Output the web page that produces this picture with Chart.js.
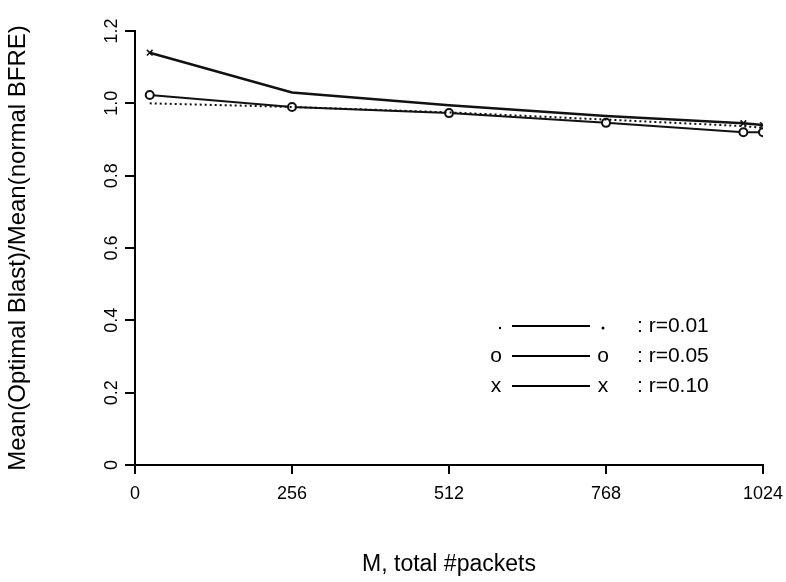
<!DOCTYPE html>
<html>
<head>
<meta charset="utf-8">
<script src="https://cdn.jsdelivr.net/npm/chart.js@4"></script>
<style>
  html, body { margin: 0; padding: 0; background: #fff; }
  #wrap { width: 786px; height: 582px; }
</style>
</head>
<body>
<div id="wrap"><canvas id="blastChart" width="786" height="582"></canvas></div>
<script>
// values
const packets = [24, 256, 512, 768, 992, 1024];
const ratioR01 = [1.00, 0.99, 0.975, 0.955, 0.937, 0.932];
const ratioR05 = [1.023, 0.99, 0.973, 0.946, 0.92, 0.92];
const ratioR10 = [1.14, 1.03, 0.995, 0.965, 0.945, 0.94];
const seriesLabels = ['r=0.01', 'r=0.05', 'r=0.10'];
const xTicks = [0, 256, 512, 768, 1024];
const yTicks = [0, 0.2, 0.4, 0.6, 0.8, 1.0, 1.2];

const FONT = "'Liberation Sans', Arial, sans-serif";

function toPoints(ys) {
    return packets.map((m, i) => ({ x: m, y: ys[i] }));
}

// legend drawn inside the plot, as in the old figure
const insideLegend = {
    id: 'insideLegend',
    afterDatasetsDraw(chart) {
        const ctx = chart.ctx;
        const marks = ['.', 'o', 'x'];
        const rows = [326, 356, 386];
        ctx.save();
        ctx.fillStyle = '#000';
        ctx.strokeStyle = '#000';
        ctx.textBaseline = 'middle';
        rows.forEach((y, i) => {
            ctx.lineWidth = 2;
            ctx.beginPath();
            ctx.moveTo(512, y);
            ctx.lineTo(590, y);
            ctx.stroke();
            if (marks[i] === '.') {
                ctx.beginPath(); ctx.arc(500, y + 2, 1.2, 0, Math.PI * 2); ctx.fill();
                ctx.beginPath(); ctx.arc(603, y + 2, 1.5, 0, Math.PI * 2); ctx.fill();
            } else {
                ctx.font = '21px ' + FONT;
                ctx.textAlign = 'center';
                ctx.fillText(marks[i], 496, y);
                ctx.fillText(marks[i], 603, y);
            }
            ctx.font = '21px ' + FONT;
            ctx.textAlign = 'left';
            ctx.fillText(': ' + seriesLabels[i], 637, y);
        });
        ctx.restore();
    }
};

const ctx = document.getElementById('blastChart');
new Chart(ctx, {
    type: 'line',
    data: {
        datasets: [
            {
                label: seriesLabels[0],
                data: toPoints(ratioR01),
                borderColor: '#111',
                borderWidth: 2,
                borderDash: [2, 3],
                pointRadius: 0,
                fill: false
            },
            {
                label: seriesLabels[1],
                data: toPoints(ratioR05),
                borderColor: '#111',
                borderWidth: 2,
                pointStyle: 'circle',
                pointRadius: 4,
                pointBorderWidth: 2,
                pointBackgroundColor: '#fff',
                pointBorderColor: '#111',
                fill: false
            },
            {
                label: seriesLabels[2],
                data: toPoints(ratioR10),
                borderColor: '#111',
                borderWidth: 2.5,
                pointStyle: 'crossRot',
                pointRadius: [4, 0, 0, 0, 4, 4],
                pointBorderWidth: 1.5,
                pointBorderColor: '#111',
                fill: false
            }
        ]
    },
    options: {
        responsive: false,
        animation: false,
        layout: { padding: { top: 31, right: 23, left: 0, bottom: 0 } },
        plugins: {
            legend: { display: false },
            tooltip: { enabled: false }
        },
        scales: {
            x: {
                type: 'linear',
                min: 0,
                max: 1024,
                afterBuildTicks: axis => { axis.ticks = xTicks.map(v => ({ value: v })); },
                afterFit: axis => { axis.height = 117; axis.paddingRight = 0; },
                border: { display: true, color: '#000', width: 2 },
                grid: { display: true, drawOnChartArea: false, color: '#000', lineWidth: 2, tickLength: 9 },
                ticks: {
                    color: '#000',
                    padding: 9,
                    maxRotation: 0,
                    font: { family: FONT, size: 18 },
                    callback: v => String(v)
                },
                title: {
                    display: true,
                    text: 'M, total #packets',
                    color: '#000',
                    font: { family: FONT, size: 23 },
                    padding: { top: 0, bottom: 4 }
                }
            },
            y: {
                type: 'linear',
                min: 0,
                max: 1.2,
                afterBuildTicks: axis => { axis.ticks = yTicks.map(v => ({ value: v })); },
                afterFit: axis => { axis.width = 135; },
                border: { display: true, color: '#000', width: 2 },
                grid: { display: true, drawOnChartArea: false, color: '#000', lineWidth: 2, tickLength: 10 },
                ticks: {
                    color: '#000',
                    padding: 0,
                    minRotation: 90,
                    maxRotation: 90,
                    crossAlign: 'center',
                    font: { family: FONT, size: 18 },
                    callback: v => v === 0 ? '0' : v.toFixed(1)
                },
                title: {
                    display: true,
                    text: 'Mean(Optimal Blast)/Mean(normal BFRE)',
                    color: '#000',
                    font: { family: FONT, size: 24 },
                    padding: { top: 4, bottom: 0 }
                }
            }
        }
    },
    plugins: [insideLegend]
});
</script>
</body>
</html>
